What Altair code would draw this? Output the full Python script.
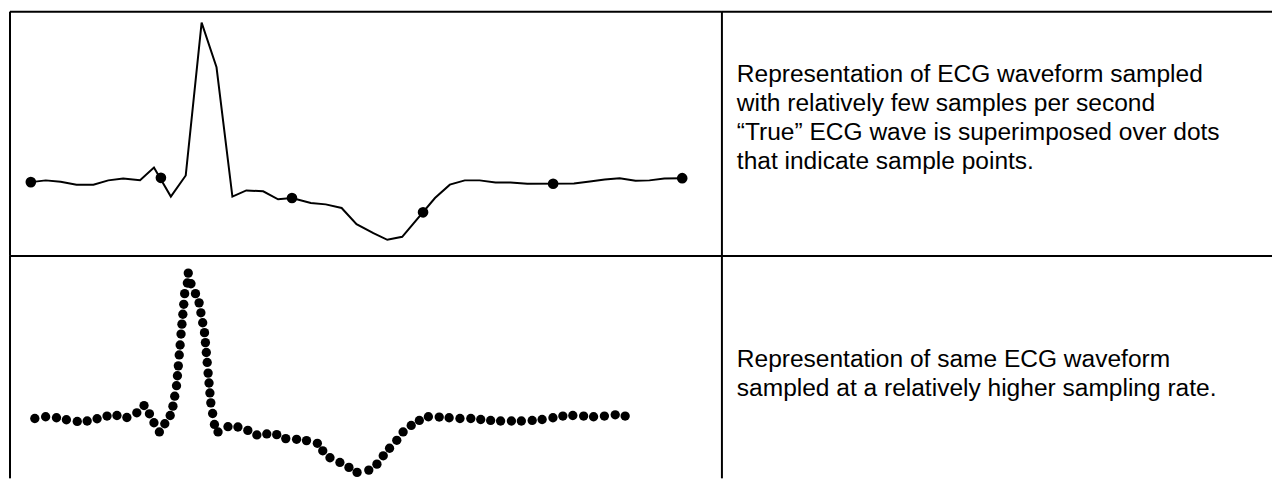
import altair as alt
import pandas as pd

# ---- top panel: "true" ECG wave (time in ms, amplitude in microvolts) ----
TRUE_T = [0, 15, 30, 46, 63, 78, 93, 110, 124, 141, 156, 172, 187, 203, 217, 234,
          249, 263, 282, 297, 313, 328, 345, 359, 374, 407, 422, 437, 452, 468,
          483, 500, 547, 563, 578, 593, 609, 623, 638, 656]
TRUE_V = [2, 13, 4, -14, -14, 13, 25, 14, 94, -89, 44, 1006, 725, -89, -50, -56,
          -106, -98, -129, -138, -161, -263, -319, -361, -342, -98, -14, 13, 13, 0,
          0, -8, -6, 6, 19, 27, 11, 13, 25, 27]

# sparse samples (few samples per second)
LOW_T = [0, 131, 263, 395, 526, 656]
LOW_V = [2, 29, -98, -188, -8, 27]

# ---- bottom panel: densely sampled waveform ----
HIGH_T = [0, 12, 24, 35, 47, 58, 69, 80, 91, 102, 113, 121, 127, 132, 138, 144,
          150, 153, 155, 157, 158, 159, 160, 161, 162, 163, 164, 165, 166, 169, 170,
          173, 178, 182, 184, 186, 188, 189, 190, 191, 192, 193, 194, 195, 197, 199,
          203, 214, 225, 236, 246, 257, 268, 278, 290, 301, 313, 319, 327, 338, 348,
          357, 370, 379, 386, 393, 401, 408, 417, 426, 436, 448, 459, 471, 483, 494,
          505, 516, 528, 539, 551, 562, 574, 585, 596, 608, 619, 631, 643, 654]
HIGH_V = [2, 14, 7, -7, -19, -16, 0, 19, 23, 9, 42, 93, 35, -28, -93, -35,
          23, 89, 159, 233, 303, 373, 450, 520, 597, 667, 737, 807, 882, 957, 1027,
          952, 882, 817, 747, 677, 607, 537, 467, 397, 322, 252, 182, 112, 37, -40,
          -93, -56, -58, -82, -114, -107, -112, -140, -145, -154, -173, -226, -275, -308, -343,
          -378, -362, -320, -261, -208, -152, -93, -47, -12, 14, 12, 7, 2, 2, -5,
          -12, -16, -16, -16, -12, -5, 7, 19, 23, 19, 14, 19, 28, 19]

TEXT_TOP = ["Representation of ECG waveform sampled",
            "with relatively few samples per second",
            "\u201cTrue\u201d ECG wave is superimposed over dots",
            "that indicate sample points."]
TEXT_BOTTOM = ["Representation of same ECG waveform",
               "sampled at a relatively higher sampling rate."]

true_df = pd.DataFrame({"t": TRUE_T, "v": TRUE_V})
low_df = pd.DataFrame({"t": LOW_T, "v": LOW_V})
high_df = pd.DataFrame({"t": HIGH_T, "v": HIGH_V})
one = pd.DataFrame({"k": [0]})

LW, RW = 717, 554
TH, BH = 246, 224
FONT = "Liberation Sans, Arial, sans-serif"
FS = 24.7
LH = 29


def hrule(y, w):
    return alt.Chart(one).mark_rule(color="black", strokeWidth=2).encode(
        x=alt.value(0), x2=alt.value(w), y=alt.value(y))


def vrule(x, h):
    return alt.Chart(one).mark_rule(color="black", strokeWidth=2).encode(
        x=alt.value(x), y=alt.value(0), y2=alt.value(h))


xs_top = alt.Scale(domain=[-21, 696], nice=False, zero=False)
ys_top = alt.Scale(domain=[-462.5, 1075], nice=False, zero=False)

top_dots = alt.Chart(low_df).mark_circle(size=115, color="black", opacity=1).encode(
    x=alt.X("t:Q", scale=xs_top, axis=None),
    y=alt.Y("v:Q", scale=ys_top, axis=None))
top_line = alt.Chart(true_df).mark_line(color="black", strokeWidth=2).encode(
    x=alt.X("t:Q", scale=xs_top, axis=None),
    y=alt.Y("v:Q", scale=ys_top, axis=None))

TL = alt.layer(top_dots, top_line, hrule(0, LW), vrule(0, TH), vrule(LW, TH),
               hrule(TH, LW)).properties(width=LW, height=TH)

text_top = alt.Chart(one).mark_text(
    align="left", baseline="alphabetic", font=FONT, fontSize=FS,
    lineHeight=LH, color="black").encode(
    x=alt.value(15), y=alt.value(71), text=alt.value(TEXT_TOP))
TR = alt.layer(text_top, hrule(0, RW), hrule(TH, RW)).properties(width=RW, height=TH)

# bottom y scale keeps the same px-per-unit (1/7) and baseline position
xs_bot = alt.Scale(domain=[-27.5, 761.2], nice=False, zero=False)
ys_bot = alt.Scale(domain=[-420, 1148], nice=False, zero=False)
bot_dots = alt.Chart(high_df).mark_circle(size=88, color="black", opacity=1).encode(
    x=alt.X("t:Q", scale=xs_bot, axis=None),
    y=alt.Y("v:Q", scale=ys_bot, axis=None))
BL = alt.layer(bot_dots, vrule(0, BH), vrule(LW, BH)).properties(width=LW, height=BH)

text_bot = alt.Chart(one).mark_text(
    align="left", baseline="alphabetic", font=FONT, fontSize=FS,
    lineHeight=LH, color="black").encode(
    x=alt.value(15), y=alt.value(112), text=alt.value(TEXT_BOTTOM))
BR = alt.layer(text_bot).properties(width=RW, height=BH)

chart = alt.concat(
    TL, TR, BL, BR, columns=2, spacing=0, bounds="flush",
).properties(
    padding={"left": 1, "top": 1, "right": 0, "bottom": 0},
    background="white",
).resolve_scale(x="independent", y="independent").configure_view(stroke=None)

chart.save("out.html", embed_options={"renderer": "svg", "actions": False})
